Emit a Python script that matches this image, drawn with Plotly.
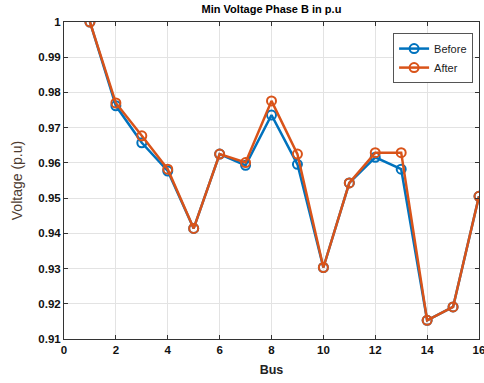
import plotly.graph_objects as go

# Bus numbers and minimum phase-B voltages (p.u.)
bus = [1, 2, 3, 4, 5, 6, 7, 8, 9, 10, 11, 12, 13, 14, 15, 16]
v_before = [1.0, 0.9762, 0.9657, 0.9577, 0.9414, 0.9625, 0.9593, 0.9736, 0.9596,
            0.9303, 0.9543, 0.9616, 0.9582, 0.9153, 0.9191, 0.9505]
v_after = [1.0, 0.9770, 0.9677, 0.9582, 0.9414, 0.9625, 0.9601, 0.9776, 0.9625,
           0.9303, 0.9543, 0.9629, 0.9629, 0.9153, 0.9191, 0.9505]

x_ticks = [0, 2, 4, 6, 8, 10, 12, 14, 16]
y_ticks = [0.91, 0.92, 0.93, 0.94, 0.95, 0.96, 0.97, 0.98, 0.99, 1]
y_tick_labels = ["0.91", "0.92", "0.93", "0.94", "0.95", "0.96", "0.97", "0.98", "0.99", "1"]

BLUE = "#0072BD"
ORANGE = "#D95319"

fig = go.Figure()
fig.add_trace(go.Scatter(
    x=bus, y=v_before, name="Before", mode="lines+markers",
    line=dict(color=BLUE, width=2.5),
    marker=dict(symbol="circle-open", size=9, color=BLUE, line=dict(width=2)),
))
fig.add_trace(go.Scatter(
    x=bus, y=v_after, name="After", mode="lines+markers",
    line=dict(color=ORANGE, width=2.5),
    marker=dict(symbol="circle-open", size=9, color=ORANGE, line=dict(width=2)),
))

tick_font = dict(family="Liberation Sans, Arial", size=11.5, color="#111111", weight="bold")
axis_common = dict(
    showgrid=True, gridcolor="#e3e3e3", gridwidth=1,
    showline=True, linecolor="#333333", linewidth=1, mirror="ticks",
    ticks="inside", ticklen=4, tickcolor="#333333",
    tickfont=tick_font, zeroline=False, ticklabeloverflow="allow",
    automargin=False,
)

fig.update_layout(
    width=484, height=383,
    margin=dict(l=64, r=5, t=22, b=44, autoexpand=False),
    paper_bgcolor="white", plot_bgcolor="white",
    title=dict(
        text="Min Voltage Phase B in p.u",
        font=dict(family="Liberation Sans, Arial", size=11, color="#000000", weight="bold"),
        x=0.5, xanchor="center", xref="paper", y=0.975, yanchor="middle",
    ),
    xaxis=dict(
        range=[0, 16], tickvals=x_ticks,
        title=dict(text="Bus", font=dict(family="Liberation Sans, Arial", size=12.5,
                                          color="#222222", weight="bold"), standoff=10),
        **axis_common,
    ),
    yaxis=dict(
        range=[0.91, 1.0], tickvals=y_ticks, ticktext=y_tick_labels,
        title=dict(text="Voltage (p.u)", font=dict(family="Liberation Sans, Arial", size=14,
                                                    color="#4d3b30"), standoff=12),
        **axis_common,
    ),
    legend=dict(
        x=0.793, y=0.965, xanchor="left", yanchor="top",
        bgcolor="white", bordercolor="#555555", borderwidth=1,
        font=dict(family="Liberation Sans, Arial", size=11, color="#222222"),
        itemwidth=30, tracegroupgap=0,
    ),
    showlegend=True,
)

fig.write_html("out.html")
